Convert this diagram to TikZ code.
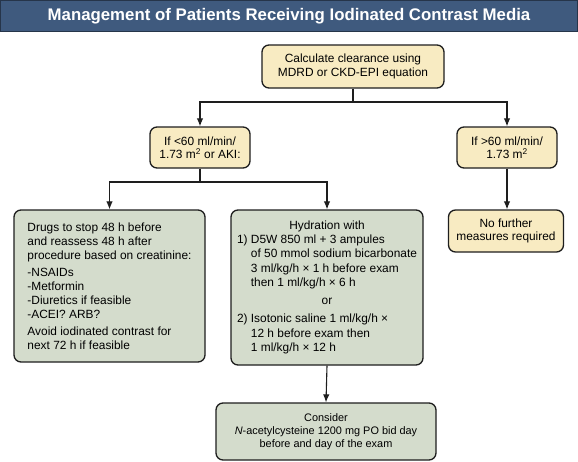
\documentclass[tikz,border=0pt]{standalone}
\usepackage{fontspec}
\setmainfont{Liberation Sans}
\usetikzlibrary{arrows.meta}
\definecolor{titlebg}{HTML}{3F5A7E}
\definecolor{titleedge}{HTML}{26354A}
\definecolor{yfill}{HTML}{F8EBC2}
\definecolor{gfill}{HTML}{D4DCCC}
\definecolor{edge}{HTML}{1E1E1E}
\begin{document}
\begin{tikzpicture}[x=1pt,y=-1pt,
  ybox/.style={draw=edge, fill=yfill, rounded corners=7pt, line width=1.3pt,
    font=\fontsize{11.9}{13.5}\selectfont, align=center, inner sep=0pt},
  gbox/.style={draw=edge, fill=gfill, rounded corners=7pt, line width=1.3pt,
    font=\fontsize{11.9}{14.3}\selectfont, inner sep=0pt},
  ln/.style={line width=1.1pt, draw=edge},
  arr/.style={ln, -{Latex[length=8pt,width=6.5pt]}}]
\useasboundingbox (0,0) rectangle (578,461);
% title bar
\fill[white] (0,0) rectangle (578,461);
\draw[fill=titlebg, draw=titleedge, line width=1pt] (0.5,0.5) rectangle (577.5,31);
\node[font=\fontsize{16.8}{18}\selectfont\bfseries, text=white] (title) at (289,16) {Management of Patients Receiving Iodinated Contrast Media};
% boxes
\node[ybox, minimum width=182pt, minimum height=43pt] (calc) at (353,66.5)
  {Calculate clearance using\\MDRD or CKD-EPI equation};
\node[ybox, minimum width=100pt, minimum height=41pt] (lt) at (200,147.5)
  {If <60 ml/min/\\1.73 m\textsuperscript{2} or AKI:};
\node[ybox, minimum width=100pt, minimum height=41pt] (gt) at (507,147.5)
  {If >60 ml/min/\\1.73 m\textsuperscript{2}};
\node[ybox, minimum width=115pt, minimum height=42pt] (nf) at (506,231)
  {No further\\measures required};
\node[gbox, font=\fontsize{11.9}{14}\selectfont, minimum width=191pt, minimum height=152pt, align=left] (drugs) at (109.5,286)
  {Drugs to stop 48 h before\\and reassess 48 h after\\procedure based on creatinine:\\[3pt]
   -NSAIDs\\-Metformin\\-Diuretics if feasible\\-ACEI? ARB?\\[3pt]
   Avoid iodinated contrast for\\next 72 h if feasible};
\node[gbox, minimum width=192pt, minimum height=155pt] (hyd) at (327,287.5)
  {\begin{tabular}{@{}l@{ }l@{}}
   \multicolumn{2}{c}{Hydration with}\\
   1) & D5W 850 ml + 3 ampules\\
      & of 50 mmol sodium bicarbonate\\
      & 3 ml/kg/h × 1 h before exam\\
      & then 1 ml/kg/h × 6 h\\[4pt]
   \multicolumn{2}{c}{or}\\[4pt]
   2) & Isotonic saline 1 ml/kg/h ×\\
      & 12 h before exam then\\
      & 1 ml/kg/h × 12 h
   \end{tabular}};
\node[gbox, align=center, font=\fontsize{10.9}{13}\selectfont, minimum width=220pt, minimum height=57pt] (nac) at (326,431.5)
  {Consider\\\textit{N}-acetylcysteine 1200 mg PO bid day\\before and day of the exam};
% connectors
\coordinate (j1) at (353,102);
\coordinate (j2) at (200,182);
\draw[arr] (calc.south) -- (j1) -| (lt.north);
\draw[arr] (j1) -| (gt.north);
\draw[arr] (lt.south) -- (j2) -| (drugs.north);
\draw[arr] (j2) -| (hyd.north);
\draw[arr] (gt.south) -- (gt.south |- nf.north);
\draw[arr] (hyd.south) -- (nac.north);
\end{tikzpicture}
\end{document}
